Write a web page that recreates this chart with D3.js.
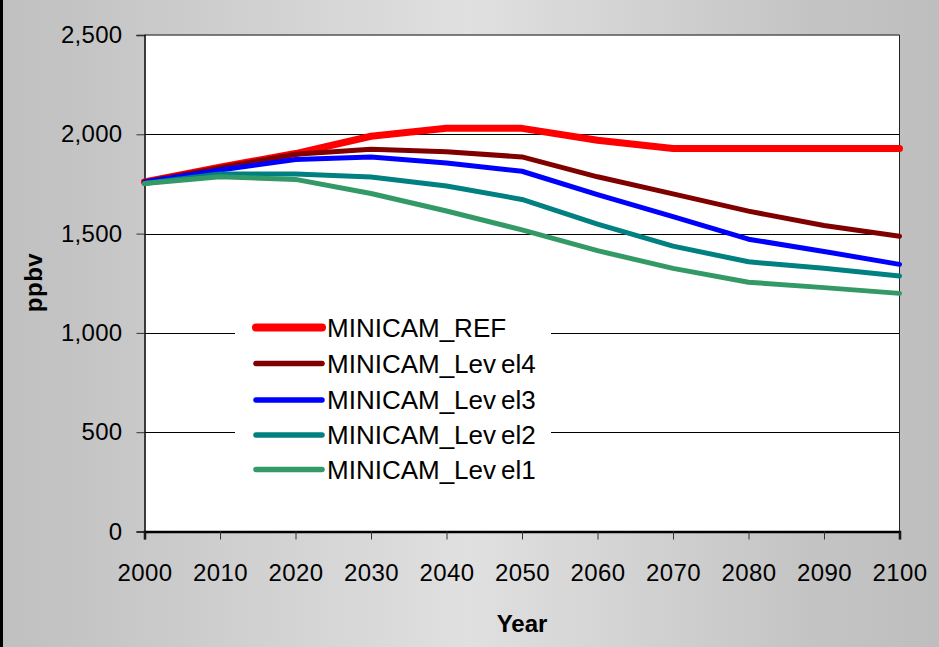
<!DOCTYPE html>
<html>
<head>
<meta charset="utf-8">
<script src="https://cdn.jsdelivr.net/npm/d3@7"></script>
<style>
  html, body { margin: 0; padding: 0; background: #c0c0c0; }
  svg { display: block; font-family: "Liberation Sans", Arial, sans-serif; }
</style>
</head>
<body>
<svg id="chart" width="939" height="647"></svg>
<script>
// Methane concentration scenarios (ppbv), MINICAM
const years = [2000, 2010, 2020, 2030, 2040, 2050, 2060, 2070, 2080, 2090, 2100];
const seriesNames = ["MINICAM_REF", "MINICAM_Level4", "MINICAM_Level3", "MINICAM_Level2", "MINICAM_Level1"];
const ref    = [1760, 1835, 1903, 1990, 2030, 2030, 1970, 1928, 1928, 1928, 1928];
const level4 = [1760, 1832, 1900, 1925, 1912, 1886, 1786, 1700, 1613, 1541, 1487];
const level3 = [1760, 1820, 1873, 1886, 1856, 1814, 1696, 1585, 1472, 1410, 1345];
const level2 = [1752, 1800, 1800, 1785, 1740, 1672, 1548, 1437, 1358, 1325, 1286];
const level1 = [1752, 1786, 1773, 1702, 1614, 1519, 1414, 1325, 1255, 1228, 1199];
const yTicks = [0, 500, 1000, 1500, 2000, 2500];
const colors = ["#ff0000", "#800000", "#0000ff", "#008080", "#339966"];
const widths = [7, 5, 5, 5, 5];

const series = [ref, level4, level3, level2, level1].map((v, i) => ({
  name: seriesNames[i], values: v, color: colors[i], width: widths[i]
}));

const svg = d3.select("#chart");
const W = 939, H = 647;
const plotLeft = 144.5, plotRight = 899.5, plotTop = 35, plotBottom = 531.5;

// background panel with horizontal grey gradient
const defs = svg.append("defs");
const grad = defs.append("linearGradient").attr("id", "bg").attr("x1", "0").attr("x2", "1").attr("y1", "0").attr("y2", "0");
[[0, "#c0c0c0"], [0.08, "#c4c4c4"], [0.5, "#e0e0e0"], [0.86, "#c4c4c4"], [1, "#bebebe"]]
  .forEach(([o, c]) => grad.append("stop").attr("offset", o).attr("stop-color", c));
svg.append("rect").attr("width", W).attr("height", H).attr("fill", "url(#bg)");
svg.append("rect").attr("x", 0).attr("y", 0).attr("width", 3).attr("height", H).attr("fill", "#000");

const x = d3.scaleLinear().domain([2000, 2100]).range([plotLeft, plotRight]);
const y = d3.scaleLinear().domain([0, 2500]).range([plotBottom, plotTop]);

// plot area
svg.append("rect").attr("x", plotLeft).attr("y", plotTop)
  .attr("width", plotRight - plotLeft).attr("height", plotBottom - plotTop)
  .attr("fill", "#fff");

// gridlines
svg.append("g").selectAll("line").data(yTicks.filter(t => t > 0 && t < 2500)).join("line")
  .attr("x1", plotLeft).attr("x2", plotRight)
  .attr("y1", d => Math.round(y(d)) + 0.5).attr("y2", d => Math.round(y(d)) + 0.5)
  .attr("stroke", "#000").attr("stroke-width", 1);

// top and right border
svg.append("line").attr("x1", plotLeft).attr("x2", plotRight).attr("y1", plotTop).attr("y2", plotTop)
  .attr("stroke", "#555").attr("stroke-width", 1.5);
svg.append("line").attr("x1", plotRight).attr("x2", plotRight).attr("y1", plotTop).attr("y2", plotBottom)
  .attr("stroke", "#222").attr("stroke-width", 1);

// y axis
const yAxis = d3.axisLeft(y).tickValues(yTicks).tickSize(8).tickPadding(14)
  .tickFormat(d3.format(","));
const gy = svg.append("g").attr("transform", `translate(${plotLeft},0)`).call(yAxis);
gy.select(".domain").attr("stroke", "#000").attr("stroke-width", 1.5);
gy.selectAll(".tick line").attr("stroke", "#333");
gy.selectAll(".tick text").attr("font-size", 24).attr("fill", "#000")
  .attr("font-family", "Liberation Sans, Arial, sans-serif").attr("letter-spacing", "0.3px");

// x axis
const xAxis = d3.axisBottom(x).tickValues(years).tickSize(8).tickPadding(24)
  .tickFormat(d3.format("d"));
const gx = svg.append("g").attr("transform", `translate(0,${plotBottom})`).call(xAxis);
gx.select(".domain").attr("stroke", "#000").attr("stroke-width", 2.5);
gx.selectAll(".tick line").attr("stroke", "#333");
gx.selectAll(".tick text").attr("font-size", 24).attr("fill", "#000")
  .attr("font-family", "Liberation Sans, Arial, sans-serif").attr("letter-spacing", "0.4px");

// axis titles
svg.append("text").attr("transform", "translate(42,282.5) rotate(-90)")
  .attr("text-anchor", "middle").attr("font-size", 24).attr("font-weight", "bold")
  .attr("letter-spacing", "0.5px").text("ppbv");
svg.append("text").attr("x", 522).attr("y", 631.5).attr("text-anchor", "middle")
  .attr("font-size", 24).attr("font-weight", "bold").text("Year");

// series lines
const line = d3.line().x((d, i) => x(years[i])).y(d => y(d));
svg.append("g").selectAll("path").data(series).join("path")
  .attr("d", d => line(d.values))
  .attr("fill", "none").attr("stroke", d => d.color).attr("stroke-width", d => d.width)
  .attr("stroke-linejoin", "round").attr("stroke-linecap", "round");

// legend
const leg = svg.append("g");
leg.append("rect").attr("x", 235).attr("y", 306).attr("width", 316).attr("height", 184).attr("fill", "#fff");
const rowY = [327.5, 363.5, 400, 435, 469.5];
const items = leg.selectAll("g.item").data(series).join("g").attr("class", "item")
  .attr("transform", (d, i) => `translate(0,${rowY[i]})`);
items.append("line").attr("x1", 256).attr("x2", 322)
  .attr("stroke", d => d.color).attr("stroke-width", (d, i) => i === 0 ? 8 : 5.5)
  .attr("stroke-linecap", "round");
items.append("text").attr("x", 327).attr("y", 9).attr("font-size", 26).attr("fill", "#000")
  .each(function (d) {
    const t = d3.select(this);
    const m = d.name.match(/^(.*Lev)(el\d)$/);
    if (m) {
      t.append("tspan").text(m[1]);
      t.append("tspan").attr("dx", 5).text(m[2]);
    } else {
      t.text(d.name);
    }
  });
</script>
</body>
</html>
